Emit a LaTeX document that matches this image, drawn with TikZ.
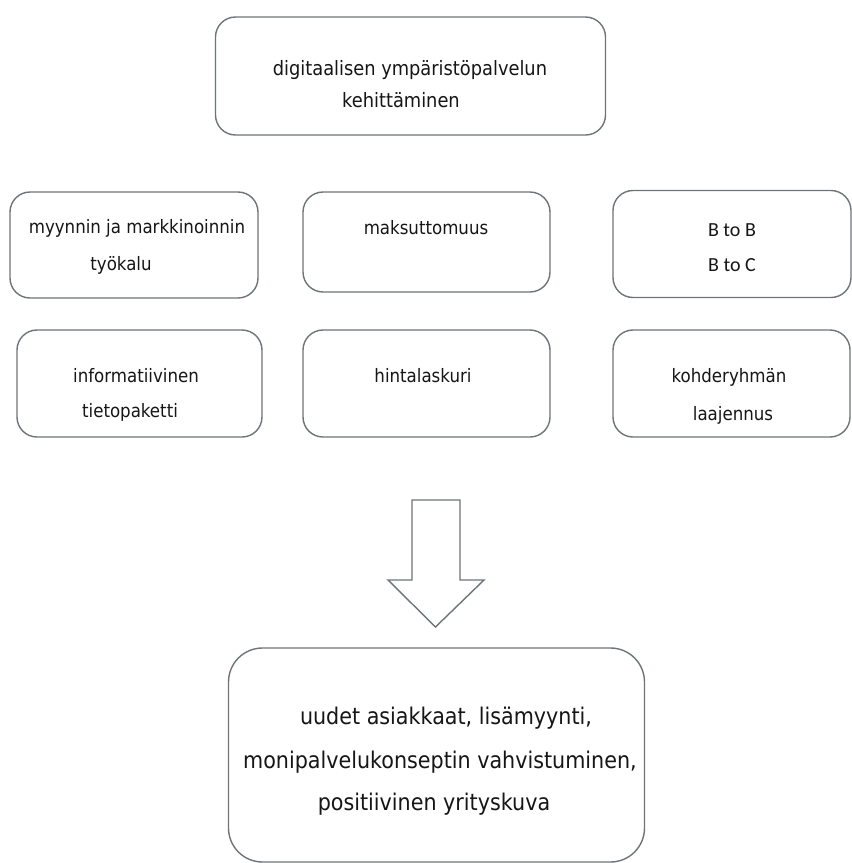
\documentclass[tikz,border=0pt]{standalone}
\usepackage{fontspec}
\setmainfont{DejaVu Sans Condensed}
\newfontfamily\calfont{Carlito}
\definecolor{edge}{HTML}{6E7478}
\definecolor{ink}{HTML}{161616}
\tikzset{
  panel/.style={draw=edge, line width=1.4pt, rounded corners=20pt, fill=white},
  bigpanel/.style={draw=edge, line width=1.4pt, rounded corners=34pt, fill=white},
  txt/.style={text=ink, inner sep=0pt, font=\fontsize{18.5}{18.5}\selectfont},
  bigtxt/.style={text=ink, inner sep=0pt, font=\fontsize{23}{23}\selectfont},
  blockarrow/.style={draw=edge, line width=1.4pt, fill=white, line join=miter}
}
\begin{document}
\begin{tikzpicture}[x=1pt, y=-1pt]
\useasboundingbox (0,0) rectangle (852,863);

% heading box
\node[panel, minimum width=390pt, minimum height=118pt] (top) at (410.5,76) {};
\node[txt, font=\fontsize{19.8}{19.8}\selectfont] (top1) at (410,70) {digitaalisen ympäristöpalvelun};
\node[txt, font=\fontsize{19.8}{19.8}\selectfont] (top2) at (401,100) {kehittäminen};

% first row
\node[panel, minimum width=248pt, minimum height=106pt] (a1) at (134,245) {};
\node[txt] (a1t1) at (137,228) {myynnin ja markkinoinnin};
\node[txt] (a1t2) at (121,265) {työkalu};

\node[panel, minimum width=247pt, minimum height=100pt] (b1) at (426.5,242) {};
\node[txt] (b1t1) at (426,228) {maksuttomuus};

\node[panel, minimum width=238pt, minimum height=107pt] (c1) at (732,244) {};
\node[txt, font=\calfont\fontsize{20}{20}\selectfont] (c1t1) at (732,230) {B to B};
\node[txt, font=\calfont\fontsize{20}{20}\selectfont] (c1t2) at (732,265) {B to C};

% second row
\node[panel, minimum width=245pt, minimum height=107pt] (a2) at (139.5,383.5) {};
\node[txt] (a2t1) at (136,376) {informatiivinen};
\node[txt] (a2t2) at (130,412) {tietopaketti};

\node[panel, minimum width=247pt, minimum height=107pt] (b2) at (426.5,383.5) {};
\node[txt] (b2t1) at (423,376) {hintalaskuri};

\node[panel, minimum width=237pt, minimum height=107pt] (c2) at (731.5,383.5) {};
\node[txt] (c2t1) at (729,377) {kohderyhmän};
\node[txt] (c2t2) at (733,415) {laajennus};

% downward block arrow
\draw[blockarrow] (412,500) -- (460,500) -- (460,580) -- (484,580)
  -- (435.5,627) -- (388,580) -- (412,580) -- cycle;

% result box
\node[bigpanel, minimum width=416pt, minimum height=214pt] (res) at (436.5,755) {};
\node[bigtxt] (r1) at (446,718) {uudet asiakkaat, lisämyynti,};
\node[bigtxt] (r2) at (440,762) {monipalvelukonseptin vahvistuminen,};
\node[bigtxt] (r3) at (434,804) {positiivinen yrityskuva};
\end{tikzpicture}
\end{document}
